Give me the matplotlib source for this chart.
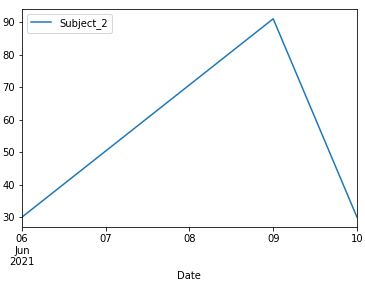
import matplotlib
matplotlib.use("Agg")
import matplotlib.pyplot as plt
import matplotlib.dates as mdates
import numpy as np
from datetime import datetime

dates = ["2021-06-06", "2021-06-09", "2021-06-10"]
subject_2 = [30, 91, 30]
series_name = "Subject_2"

x = [datetime.strptime(d, "%Y-%m-%d") for d in dates]

fig = plt.figure(figsize=(365/72, 286/72), dpi=72)
ax = fig.add_axes([0.060, 0.206, 0.918, 0.763])
ax.plot(x, subject_2, color="#1f77b4", label=series_name)
ax.set_xlim(x[0], x[-1])
ax.xaxis.set_major_locator(mdates.DayLocator())

def fmt(val, pos):
    d = mdates.num2date(val)
    if pos == 0:
        return d.strftime("%d\n%b\n%Y")
    return d.strftime("%d")

ax.xaxis.set_major_formatter(plt.FuncFormatter(fmt))
ax.set_xlabel("Date")
ax.legend(loc="upper left")
fig.savefig("out.png", dpi=72)
